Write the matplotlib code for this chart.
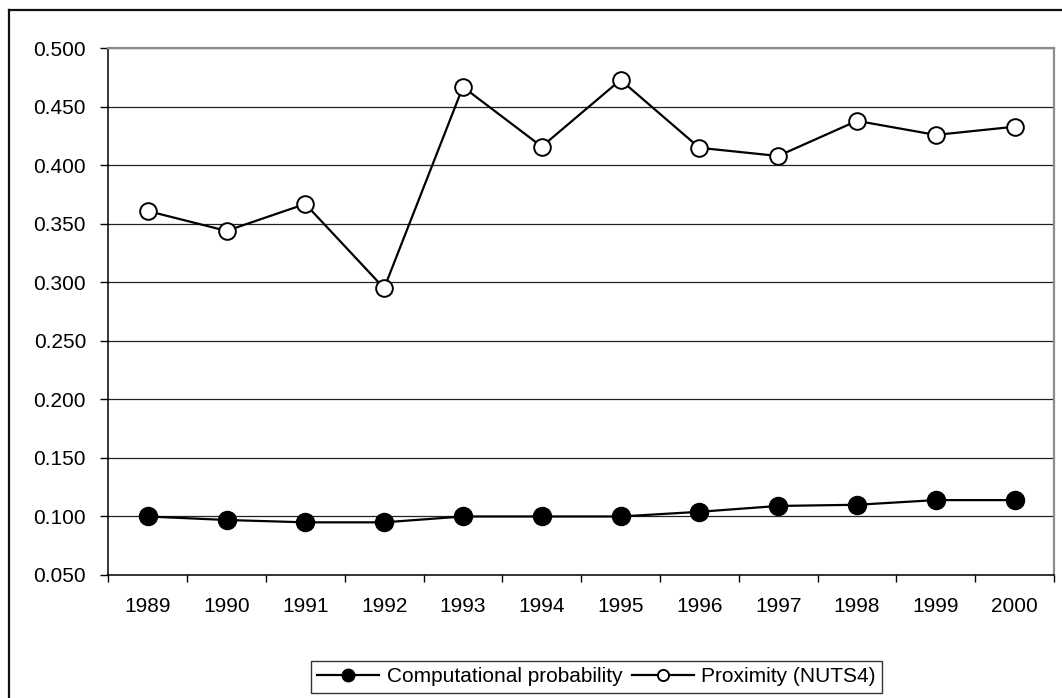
import matplotlib
matplotlib.use("agg")
import matplotlib.pyplot as plt
from matplotlib.lines import Line2D
import numpy as np

plt.rcParams['font.family'] = ['Liberation Sans', 'DejaVu Sans']

years = ['1989', '1990', '1991', '1992', '1993', '1994',
         '1995', '1996', '1997', '1998', '1999', '2000']
comp_prob = [0.100, 0.097, 0.095, 0.095, 0.100, 0.100,
             0.100, 0.104, 0.109, 0.110, 0.114, 0.114]
proximity = [0.361, 0.344, 0.367, 0.295, 0.467, 0.416,
             0.473, 0.415, 0.408, 0.438, 0.426, 0.433]
yticks = [0.05, 0.10, 0.15, 0.20, 0.25, 0.30, 0.35, 0.40, 0.45, 0.50]

W, H = 1062, 698
fig = plt.figure(figsize=(W / 100, H / 100), dpi=100)
ax = fig.add_axes([108.3 / W, 1 - 575 / H, (1054 - 108.3) / W, (575 - 48.3) / H])

x = np.arange(len(years))

ax.plot(x, comp_prob, color='black', lw=1.6, marker='o', ms=13,
        mfc='black', mec='black', label='Computational probability', zorder=3)
ax.plot(x, proximity, color='black', lw=1.6, marker='o', ms=12,
        mfc='white', mec='black', mew=1.4, label='Proximity (NUTS4)', zorder=3)

ax.set_xlim(-0.5, len(years) - 0.5)
ax.set_ylim(0.05, 0.5)
ax.set_yticks(yticks)
ax.set_yticklabels(['%.3f' % v for v in yticks])
ax.set_xticks(x)
ax.set_xticklabels(years)
ax.set_xticks(np.arange(-0.5, len(years)), minor=True)

ax.tick_params(axis='x', which='major', length=0, pad=16, labelsize=15)
ax.tick_params(axis='x', which='minor', length=5, width=1, color='black')
ax.tick_params(axis='y', length=6, width=1, pad=10, labelsize=15)

ax.set_axisbelow(True)
ax.yaxis.grid(True, color='#222222', lw=0.9)

for side in ['left', 'bottom']:
    ax.spines[side].set_color('black')
    ax.spines[side].set_linewidth(1.1)
for side in ['top', 'right']:
    ax.spines[side].set_color('#8c8c8c')
    ax.spines[side].set_linewidth(1.6)

# outer chart frame (right and bottom edges fall outside the picture)
fig.add_artist(Line2D([8.5 / W, 8.5 / W], [0, 1 - 9.5 / H], transform=fig.transFigure,
                      color='#111111', lw=1.6))
fig.add_artist(Line2D([8.5 / W, 1], [1 - 9.5 / H, 1 - 9.5 / H], transform=fig.transFigure,
                      color='#111111', lw=1.6))

leg = fig.legend(loc='center', bbox_to_anchor=(596.3 / W, 1 - 676.8 / H), ncol=2,
                 fontsize=15, frameon=True, fancybox=False, handlelength=3.0,
                 handletextpad=0.35, columnspacing=0.45, borderpad=0.3)
leg.get_frame().set_edgecolor('black')
leg.get_frame().set_linewidth(1.0)
leg.legend_handles[0].set_markersize(9)
leg.legend_handles[1].set_markersize(8)

fig.savefig('out.png', dpi=100)
